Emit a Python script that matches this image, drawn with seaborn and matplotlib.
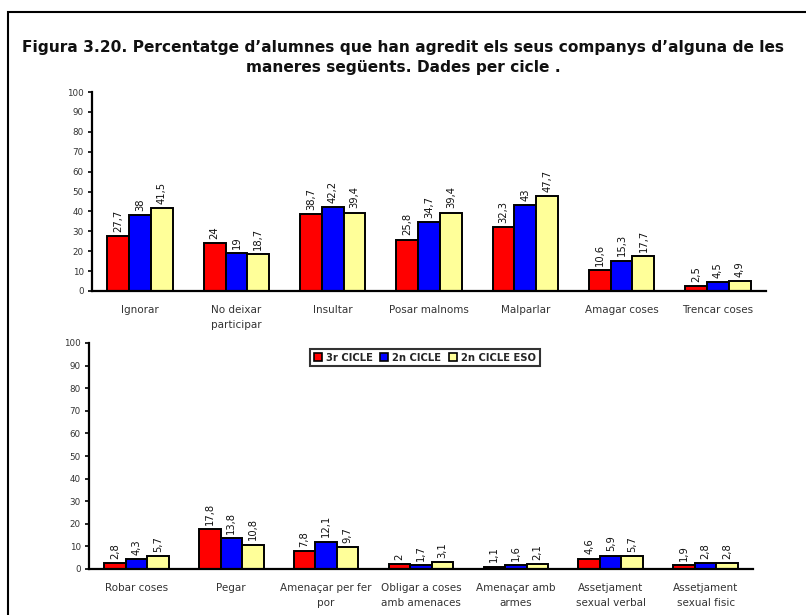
import matplotlib
matplotlib.use("Agg")
import matplotlib.pyplot as plt
import matplotlib.patches as mpatches
import numpy as np
import pandas as pd
import seaborn as sns

sns.set_theme(style="white")
plt.rcParams["font.family"] = ["DejaVu Sans"]

series = ["3r CICLE", "2n CICLE", "2n CICLE ESO"]
colors = ["#FF0000", "#0000FF", "#FFFF99"]

cats_top = ["Ignorar", "No deixar\nparticipar", "Insultar", "Posar malnoms",
            "Malparlar", "Amagar coses", "Trencar coses"]
top_3r = [27.7, 24, 38.7, 25.8, 32.3, 10.6, 2.5]
top_2n = [38, 19, 42.2, 34.7, 43, 15.3, 4.5]
top_eso = [41.5, 18.7, 39.4, 39.4, 47.7, 17.7, 4.9]

cats_bot = ["Robar coses", "Pegar", "Amenaçar per fer\npor",
            "Obligar a coses\namb amenaces", "Amenaçar amb\narmes",
            "Assetjament\nsexual verbal", "Assetjament\nsexual fisic"]
bot_3r = [2.8, 17.8, 7.8, 2, 1.1, 4.6, 1.9]
bot_2n = [4.3, 13.8, 12.1, 1.7, 1.6, 5.9, 2.8]
bot_eso = [5.7, 10.8, 9.7, 3.1, 2.1, 5.7, 2.8]

yticks = list(range(0, 101, 10))


def to_long(cats, *vals):
    rows = []
    for s, v in zip(series, vals):
        for c, x in zip(cats, v):
            rows.append({"cat": c, "serie": s, "val": x})
    return pd.DataFrame(rows)


def fmt(v):
    return (f"{v:g}").replace(".", ",")


def draw(ax, cats, vals):
    df = to_long(cats, *vals)
    sns.barplot(data=df, x="cat", y="val", hue="serie", order=cats,
                hue_order=series, palette=colors, saturation=1, width=0.68,
                edgecolor="black", linewidth=1.4, ax=ax, legend=False)
    for cont, v in zip(ax.containers, vals):
        ax.bar_label(cont, labels=[fmt(x) for x in v], rotation=90,
                     padding=3, fontsize=7.2, color="#111111")
    ax.set_xlim(-0.5, len(cats) - 0.5)
    ax.set_ylim(0, 100)
    ax.set_yticks(yticks)
    ax.set_yticklabels([str(t) for t in yticks], fontsize=6.3, color="#333333")
    ax.set_xticks(range(len(cats)))
    ax.set_xticklabels(cats, fontsize=7.5, color="#333333", linespacing=1.7)
    ax.set_xticks(np.arange(-0.5, len(cats), 1.0), minor=True)
    ax.tick_params(axis="x", which="major", length=0, pad=10)
    ax.tick_params(axis="x", which="minor", length=4, width=1.3,
                   direction="in", color="black")
    ax.tick_params(axis="y", length=3, width=1.2, direction="out",
                   left=True, color="black", pad=3)
    ax.set_xlabel("")
    ax.set_ylabel("")
    for side in ("top", "right"):
        ax.spines[side].set_visible(False)
    for side in ("left", "bottom"):
        ax.spines[side].set_color("black")
        ax.spines[side].set_linewidth(1.6)
    ax.set_facecolor("white")


fig = plt.figure(figsize=(8.06, 6.15), dpi=100)
fig.patch.set_facecolor("white")

ax1 = fig.add_axes([92 / 806, 1 - 291 / 615, (766 - 92) / 806, (291 - 92) / 615])
ax2 = fig.add_axes([89 / 806, 1 - 569 / 615, (753 - 89) / 806, (569 - 343) / 615])

draw(ax1, cats_top, [top_3r, top_2n, top_eso])
draw(ax2, cats_bot, [bot_3r, bot_2n, bot_eso])

handles = [mpatches.Patch(facecolor=c, edgecolor="black", linewidth=1.2, label=s)
           for s, c in zip(series, colors)]
leg = ax2.legend(handles=handles, ncol=3, loc="upper center",
                 bbox_to_anchor=(0.506, 0.995), frameon=True, fancybox=False,
                 handlelength=0.8, handleheight=0.8, handletextpad=0.4,
                 columnspacing=0.8, borderpad=0.35,
                 prop={"weight": "bold", "size": 7.2})
leg.get_frame().set_edgecolor("black")
leg.get_frame().set_linewidth(1.5)

fig.text(0.5, 1 - 57.5 / 615,
         "Figura 3.20. Percentatge d\u2019alumnes que han agredit els seus companys d\u2019alguna de les\n"
         "maneres següents. Dades per cicle .",
         ha="center", va="center", fontsize=11.1, fontweight="bold",
         family=["DejaVu Sans"], linespacing=1.45, color="#111111")

fig.patches.append(mpatches.Rectangle((8 / 806, -0.1), 1.0, 1 - 12 / 615 + 0.1,
                                      transform=fig.transFigure, fill=False,
                                      edgecolor="black", linewidth=1.5))

fig.savefig("out.png", dpi=100, facecolor="white")
